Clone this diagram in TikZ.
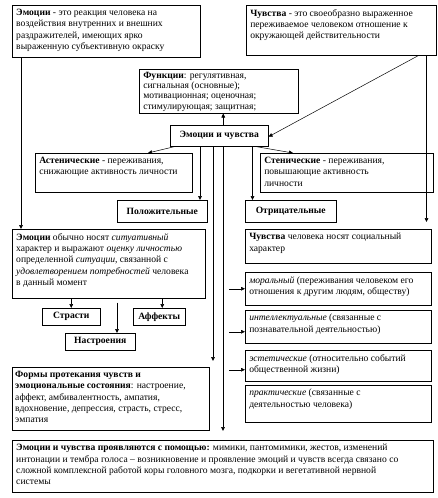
\documentclass[tikz,border=0pt]{standalone}
\usepackage{fontspec}
\setmainfont{Liberation Serif}
\usetikzlibrary{arrows.meta,shadows}
\newcommand{\bx}[3]{\parbox[t][\dimexpr#2pt-8pt\relax][t]{\dimexpr#1pt-8pt\relax}{\raggedright\hspace{0pt}#3}}
\newcommand{\cbx}[3]{\parbox[t][\dimexpr#2pt-8pt\relax][c]{\dimexpr#1pt-8pt\relax}{\centering #3}}
\tikzset{
  box/.style={draw, fill=white, line width=0.5pt, anchor=north west, inner xsep=4pt, inner ysep=4pt,
    font=\fontsize{9.6}{11.3}\selectfont,
    drop shadow={shadow xshift=1pt, shadow yshift=-1pt, fill=black!80, opacity=1}},
  arr/.style={-{Triangle[length=4pt,width=3.6pt]}, line width=0.5pt},
}
\begin{document}
\begin{tikzpicture}[x=1pt,y=-1pt]
\useasboundingbox[fill=white] (0,0) rectangle (438,498);
% top row
\node[box] (emo) at (12,5) {\bx{188}{52}{\textbf{Эмоции} - это реакция человека на\\ воздействия внутренних и внешних\\ раздражителей, имеющих ярко\\ выраженную субъективную окраску}};
\node[box] (chuv) at (246,5) {\bx{190}{50}{\textbf{Чувства} - это своеобразно выраженное\\ переживаемое человеком отношение к\\ окружающей действительности}};
\node[box, inner ysep=3pt, font=\fontsize{9.6}{10.2}\selectfont] (func) at (139,69) {\bx{159}{46}{\textbf{Функции}: регулятивная,\\ сигнальная (основные);\\ мотивационная; оценочная;\\ стимулирующая; защитная;}};
\node[box] (ec) at (170,125) {\cbx{98}{21}{\textbf{Эмоции и чувства}}};
\node[box] (ast) at (35,153) {\bx{157}{39}{\textbf{Астенические} - переживания,\\ снижающие активность личности}};
\node[box] (sten) at (260,153) {\bx{173}{39}{\textbf{Стенические} - переживания,\\ повышающие активность\\ личности}};
\node[box] (pos) at (117,200) {\cbx{90}{22}{\textbf{Положительные}}};
\node[box] (neg) at (245,200) {\cbx{91}{22}{\textbf{Отрицательные}}};
% left column
\node[box] (emo2) at (12,229) {\bx{193}{69}{\textbf{Эмоции} обычно носят \textit{ситуативный}\\ характер и выражают \textit{оценку личностью}\\ определенной \textit{ситуации}, связанной с\\ \textit{удовлетворением потребностей} человека\\ в данный момент}};
\node[box] (str) at (42,308) {\cbx{58}{17}{\textbf{Страсти}}};
\node[box] (aff) at (133,308) {\cbx{52}{17}{\textbf{Аффекты}}};
\node[box] (nas) at (65,333) {\cbx{70}{17}{\textbf{Настроения}}};
\node[box, inner xsep=3pt] (forms) at (12,367) {\bx{199}{63}{\textbf{Формы протекания чувств и}\\ \textbf{эмоциональные состояния}: настроение,\\ аффект, амбивалентность, ампатия,\\ вдохновение, депрессия, страсть, стресс,\\ эмпатия}};
% right column
\node[box] (soc) at (245,229) {\bx{186}{34}{\textbf{Чувства} человека носят  социальный\\ характер}};
\node[box] (mor) at (245,272) {\bx{186}{33}{\textit{моральный} (переживания человеком его\\ отношения к другим людям, обществу)}};
\node[box] (intel) at (245,310) {\bx{186}{33}{\textit{интеллектуальные} (связанные с\\ познавательной деятельностью)}};
\node[box] (est) at (245,350) {\bx{186}{31}{\textit{эстетические} (относительно событий\\ общественной жизни)}};
\node[box] (prak) at (245,385) {\bx{186}{37}{\textit{практические} (связанные с\\ деятельностью человека)}};
% bottom
\node[box] (bot) at (12,440) {\bx{421}{52}{\textbf{Эмоции и чувства проявляются с помощью:} мимики, пантомимики, жестов, изменений\\ интонации и тембра голоса – возникновение и проявление эмоций и чувств всегда связано со\\ сложной комплексной работой коры головного мозга, подкорки и вегетативной нервной\\ системы}};
% connectors
\draw[arr] ([xshift=9pt]emo.south west) -- ([xshift=9pt]emo2.north west);
\draw[arr, shorten >=7pt] ([xshift=-10pt]chuv.south east) coordinate (c1) -- (c1 |- soc.north);
\draw[arr] ([xshift=-18pt]chuv.south east) -- ([yshift=-1pt]ec.east);
\draw[arr] ([xshift=4pt]ec.north) coordinate (c2) -- (c2 |- func.south);
\draw[arr] ([xshift=5pt]ec.south west) -- ([xshift=113pt]ast.north west);
\draw[arr] ([xshift=-13pt]ec.south east) -- ([xshift=33pt]sten.north west);
\draw[arr] ([xshift=30pt]ec.south west) coordinate (c3) -- (c3 |- pos.north);
\draw[arr] ([xshift=-16pt]ec.south east) coordinate (c4) -- (c4 |- neg.north);
\draw[arr, shorten >=6pt] ([xshift=43pt]ec.south west) coordinate (c5) -- (c5 |- forms.north);
\draw[arr, shorten >=9pt] ([xshift=53pt]ec.south west) coordinate (c6) -- (c6 |- bot.north);
\draw[arr] ([xshift=-16pt]mor.west) -- (mor.west);
\draw[arr] ([xshift=-16pt,yshift=-5pt]intel.west) -- ([yshift=-5pt]intel.west);
\draw[arr] ([xshift=-16pt,yshift=-4pt]est.west) -- ([yshift=-4pt]est.west);
\draw[arr] (emo2.south -| str.north) -- (str.north);
\draw[arr] ([xshift=3pt]aff.north |- emo2.south) -- ([xshift=3pt]aff.north);
\draw[arr, shorten <=4pt] ([xshift=52pt]nas.north west |- emo2.south) -- ([xshift=52pt]nas.north west);
\end{tikzpicture}
\end{document}
